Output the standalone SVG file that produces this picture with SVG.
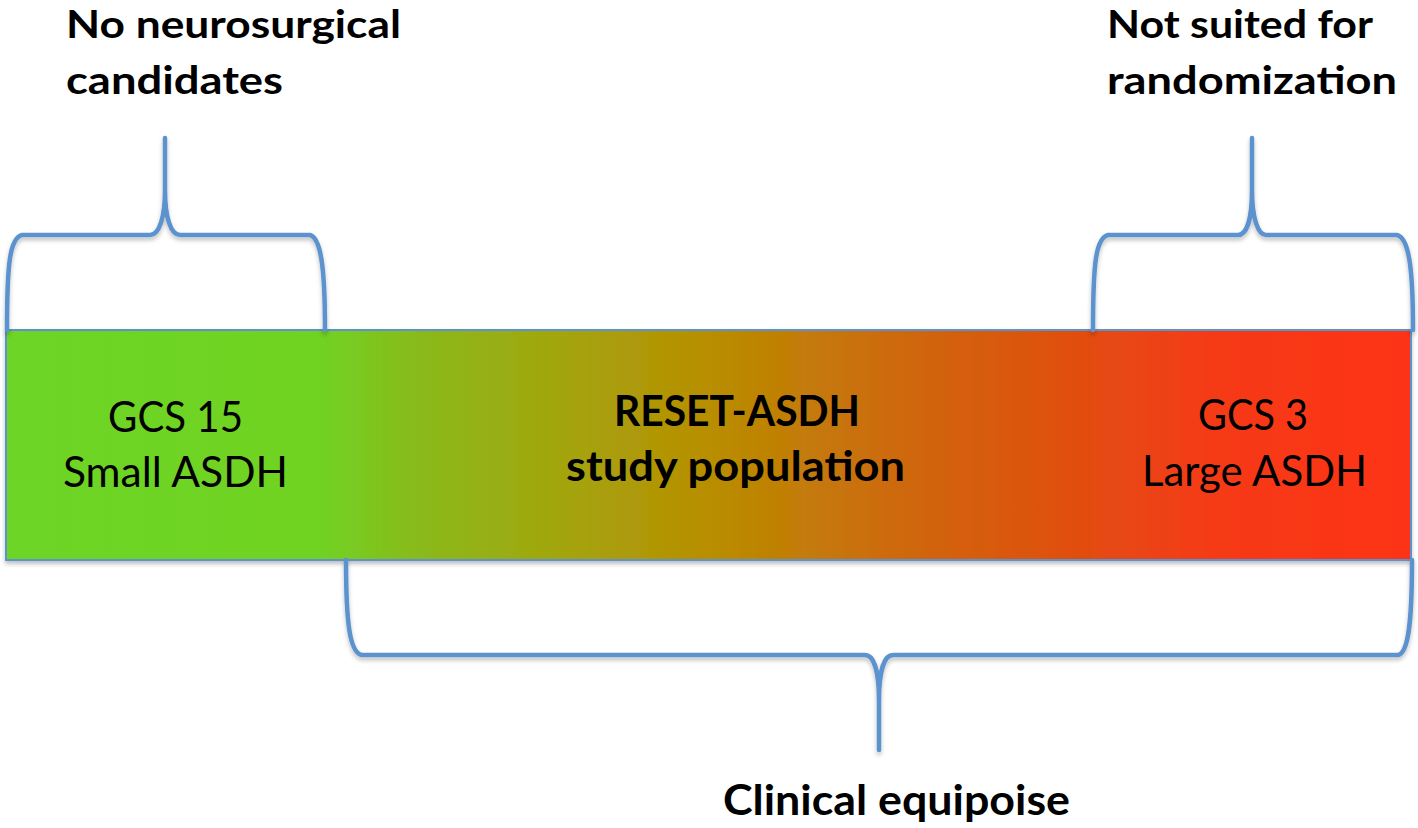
<svg xmlns="http://www.w3.org/2000/svg" width="1418" height="828" viewBox="0 0 1418 828">
  <style>
    .lbl { font-family: Lato, "Open Sans", "Liberation Sans", sans-serif; fill: #000; }
    .b { font-weight: bold; font-size: 42px; }
    .t { font-weight: bold; font-size: 39px; }
    .r { font-weight: normal; font-size: 42px; }
    .brace { fill: none; stroke: #5b93cf; stroke-width: 4.5; stroke-linecap: round; stroke-linejoin: round; }
  </style>
  <defs>
    <linearGradient id="grad" x1="6" y1="0" x2="1411" y2="0" gradientUnits="userSpaceOnUse">
      <stop offset="0" stop-color="#6dd525"/>
      <stop offset="0.22" stop-color="#70d324"/>
      <stop offset="0.3" stop-color="#8bb81a"/>
      <stop offset="0.4" stop-color="#a4a40c"/>
      <stop offset="0.5" stop-color="#b88e02"/>
      <stop offset="0.63" stop-color="#cd6a0c"/>
      <stop offset="0.75" stop-color="#df5010"/>
      <stop offset="0.86" stop-color="#f53a16"/>
      <stop offset="1" stop-color="#fd3316"/>
    </linearGradient>
    <filter id="sh" x="-5%" y="-5%" width="110%" height="120%">
      <feDropShadow dx="0" dy="3" stdDeviation="2" flood-color="#000" flood-opacity="0.25"/>
    </filter>
  </defs>

  <g id="bar">
    <rect x="6" y="330" width="1405" height="230" fill="url(#grad)" stroke="#5b93cf" stroke-width="2" filter="url(#sh)"/>
    <text class="lbl r" x="175.5" y="432" text-anchor="middle" textLength="135" lengthAdjust="spacingAndGlyphs">GCS 15</text>
    <text class="lbl r" x="175.5" y="487" text-anchor="middle" textLength="225" lengthAdjust="spacingAndGlyphs">Small ASDH</text>
    <text class="lbl b" x="737" y="426" text-anchor="middle" textLength="246" lengthAdjust="spacingAndGlyphs">RESET-ASDH</text>
    <text class="lbl b" x="735.5" y="481" text-anchor="middle" textLength="339" lengthAdjust="spacingAndGlyphs">study population</text>
    <text class="lbl r" x="1253" y="430" text-anchor="middle" textLength="110" lengthAdjust="spacingAndGlyphs">GCS 3</text>
    <text class="lbl r" x="1254.5" y="486" text-anchor="middle" textLength="225" lengthAdjust="spacingAndGlyphs">Large ASDH</text>
  </g>

  <g id="label-no-neuro">
    <text class="lbl t" x="66" y="38" textLength="335" lengthAdjust="spacingAndGlyphs">No neurosurgical</text>
    <text class="lbl t" x="66" y="94" textLength="217" lengthAdjust="spacingAndGlyphs">candidates</text>
  </g>

  <g id="label-not-suited">
    <text class="lbl t" x="1107" y="38" textLength="266" lengthAdjust="spacingAndGlyphs">Not suited for</text>
    <text class="lbl t" x="1107" y="94" textLength="290" lengthAdjust="spacingAndGlyphs">randomization</text>
  </g>

  <g id="label-equipoise">
    <text class="lbl b" x="723" y="815" textLength="347" lengthAdjust="spacingAndGlyphs">Clinical equipoise</text>
  </g>

  <g id="connectors" filter="url(#sh)">
    <path class="brace" d="M7,330 C7,262 10,238 22,235 L150,235 C159,235 165,218 165,190 L165,138 L165,190 C165,218 171,235 180,235 L310,235 C320,238 325,262 325,330"/>
    <path class="brace" d="M1093,330 C1093,262 1096,238 1108,235 L1238,235 C1247,235 1252,218 1252,190 L1252,138 L1252,190 C1252,218 1258,235 1266,235 L1397,235 C1408,238 1413,262 1413,330"/>
    <path class="brace" d="M346,560 C346,625 350,653 362,655 L865,655 C874,655 879,672 879,700 L879,750 L879,700 C879,672 884,655 893,655 L1398,655 C1408,653 1412,625 1412,560"/>
  </g>
</svg>
